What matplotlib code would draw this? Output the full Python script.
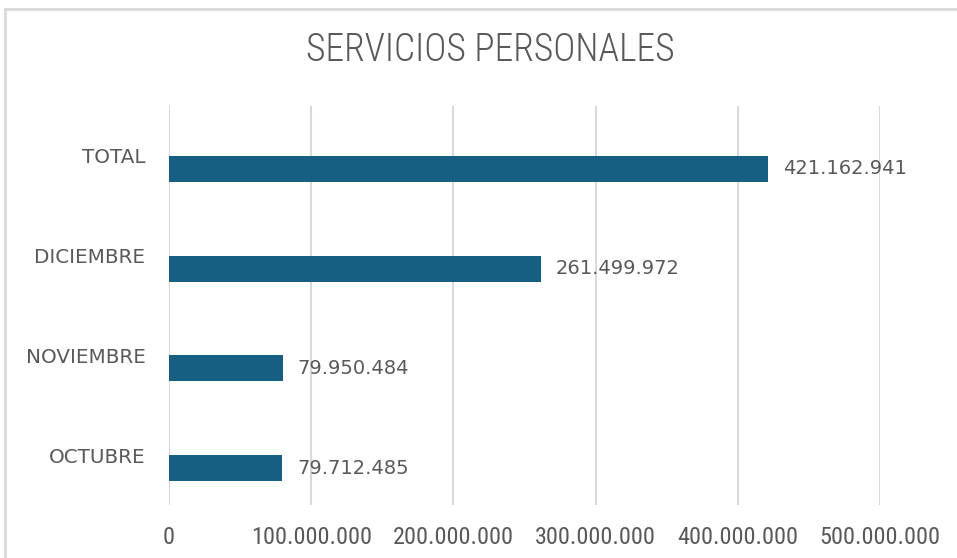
import matplotlib.pyplot as plt
from matplotlib import font_manager as fm
from matplotlib.lines import Line2D

categorias = ['OCTUBRE', 'NOVIEMBRE', 'DICIEMBRE', 'TOTAL']
valores = [79712485, 79950484, 261499972, 421162941]
ticks = [0, 100000000, 200000000, 300000000, 400000000, 500000000]


def miles(v):
    return f'{v:,.0f}'.replace(',', '.')


def fuente(candidatas):
    disponibles = {f.name for f in fm.fontManager.ttflist}
    for c in candidatas:
        if c in disponibles:
            return c
    return 'DejaVu Sans'


estrecha = fuente(['Roboto Condensed', 'Liberation Sans Narrow', 'IBM Plex Sans Condensed', 'DejaVu Sans'])
normal = 'DejaVu Sans'

color_barra = '#175F82'
gris = '#595959'

fig = plt.figure(figsize=(9.57, 5.58), dpi=100)
ax = fig.add_axes([169 / 957, 53 / 558, 711 / 957, 399 / 558])

y = list(range(len(categorias)))
alto = 0.26
ax.barh([i - alto for i in y], valores, height=alto, align='edge', color=color_barra, zorder=3)

for i, v in zip(y, valores):
    ax.text(v + 10500000, i - alto / 2, miles(v), va='center', ha='left',
            fontsize=14, color=gris, family=normal)

ax.set_xlim(0, 500000000)
ax.set_ylim(-0.5, 3.5)
ax.set_xticks(ticks)
ax.set_xticklabels([miles(t) for t in ticks], family=estrecha, fontsize=17.5, color=gris)
ax.set_yticks(y)
ax.set_yticklabels(categorias, fontsize=14.3, color=gris, family=normal)
ax.tick_params(axis='both', length=0)
ax.tick_params(axis='x', pad=15)
ax.tick_params(axis='y', pad=17)
ax.grid(axis='x', color='#D9D9D9', linewidth=1.5, zorder=0)
for s in ax.spines.values():
    s.set_visible(False)

fig.text(490 / 957, 1 - 50 / 558, 'SERVICIOS PERSONALES', ha='center', va='center',
         fontsize=27, color=gris, family=estrecha, weight='light')

# marco del gráfico
fig.add_artist(Line2D([5 / 957, 5 / 957], [0, 1 - 9 / 558], color='#D9D9D9', lw=2, transform=fig.transFigure))
fig.add_artist(Line2D([5 / 957, 1], [1 - 9 / 558, 1 - 9 / 558], color='#D9D9D9', lw=2, transform=fig.transFigure))

fig.savefig('out.png', dpi=100)
